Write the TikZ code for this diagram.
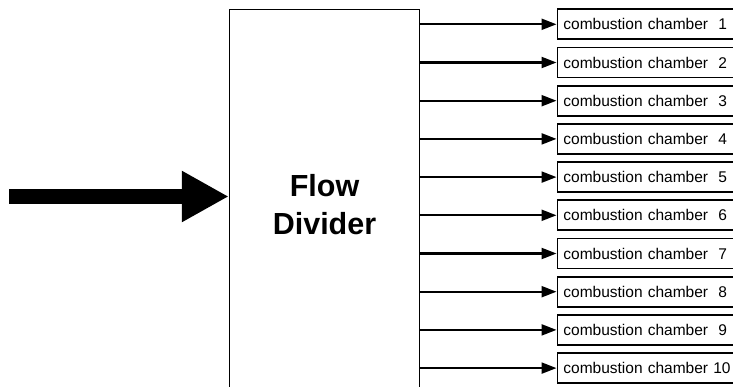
\documentclass[tikz,border=0pt]{standalone}
\usepackage{fontspec}
\setmainfont{Liberation Sans}
\usetikzlibrary{arrows.meta}
\begin{document}
\begin{tikzpicture}[x=1pt,y=-1pt,
  divbox/.style={draw,line width=1.5pt,minimum width=190pt,minimum height=391pt,inner sep=0pt,
    align=center,font=\bfseries\fontsize{30.5}{38}\selectfont},
  chamber/.style={draw,line width=1.8pt,anchor=west,minimum height=30pt,text width=172pt,
    inner xsep=6pt,inner ysep=0pt,align=left,font=\fontsize{15.5}{18}\selectfont},
  branch/.style={line width=2.2pt,-{Triangle[length=15pt,width=11pt]}},
  bigarrow/.style={line width=15pt,-{Triangle[length=47pt,width=48pt]}}]
\clip (0,0) rectangle (733,387);
\fill[white] (0,0) rectangle (733,387);
\node[divbox] (div) at (324.5,205) {Flow\\Divider};
\foreach \i/\t in {1/{combustion chamber\ \ 1},2/{combustion chamber\ \ 2},3/{combustion chamber\ \ 3},
  4/{combustion chamber\ \ 4},5/{combustion chamber\ \ 5},6/{combustion chamber\ \ 6},
  7/{combustion chamber\ \ 7},8/{combustion chamber\ \ 8},9/{combustion chamber\ \ 9},10/{combustion chamber 10}}{
  \node[chamber] (c\i) at (556.5,{24.3+(\i-1)*38.2}) {\t};
  \draw[branch] (div.east |- c\i.west) -- (c\i.west);
}
\coordinate (in) at (9,196.5);
\draw[bigarrow] (in) -- (div.west |- in);
\end{tikzpicture}
\end{document}
